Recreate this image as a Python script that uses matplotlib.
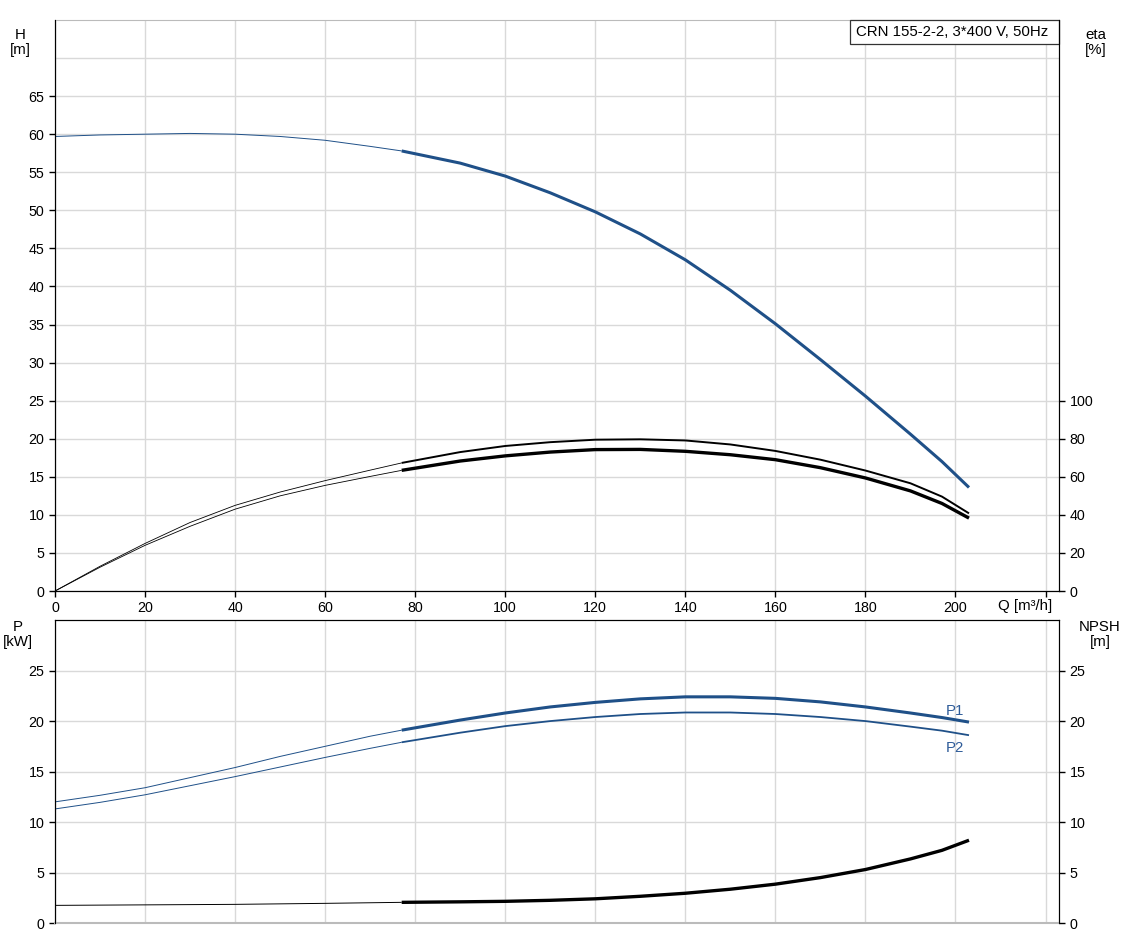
import matplotlib
matplotlib.use("Agg")
import matplotlib.pyplot as plt
from matplotlib.patches import Rectangle
import numpy as np

plt.rcParams['font.family'] = ['Liberation Sans', 'DejaVu Sans']
plt.rcParams['font.size'] = 10.3

# flow points (m3/h), duty range starts at 77
q = np.array([0, 10, 20, 30, 40, 50, 60, 70, 77, 90, 100, 110, 120, 130, 140, 150, 160, 170, 180, 190, 197, 203])
head = np.array([59.7, 59.9, 60.0, 60.1, 60.0, 59.7, 59.2, 58.4, 57.8, 56.2, 54.5, 52.3, 49.8, 46.9, 43.5, 39.5, 35.1, 30.4, 25.6, 20.6, 17.0, 13.6])
eta_pump = np.array([0, 13, 25, 36, 45, 52, 58, 63.5, 67.3, 73.0, 76.2, 78.2, 79.5, 79.7, 79.1, 77.0, 73.6, 69.0, 63.3, 56.6, 49.6, 40.8])
eta_total = np.array([0, 12.5, 24, 34, 43, 50, 55.5, 60.2, 63.4, 68.3, 71.0, 73.0, 74.3, 74.4, 73.4, 71.6, 69.0, 64.8, 59.4, 52.6, 46.0, 38.3])
p1 = np.array([12.0, 12.65, 13.4, 14.4, 15.4, 16.5, 17.5, 18.5, 19.1, 20.1, 20.8, 21.4, 21.85, 22.2, 22.4, 22.4, 22.25, 21.9, 21.4, 20.8, 20.35, 19.9])
p2 = np.array([11.3, 11.95, 12.7, 13.6, 14.5, 15.45, 16.4, 17.3, 17.9, 18.85, 19.5, 20.0, 20.4, 20.7, 20.85, 20.85, 20.7, 20.4, 20.0, 19.45, 19.05, 18.6])
q_npsh = np.array([0, 20, 40, 60, 77, 90, 100, 110, 120, 130, 140, 150, 160, 170, 180, 190, 197, 203])
npsh = np.array([1.75, 1.8, 1.85, 1.95, 2.05, 2.1, 2.15, 2.25, 2.4, 2.65, 2.95, 3.35, 3.85, 4.5, 5.3, 6.35, 7.2, 8.2])
q_duty = 77

blue = '#1f5088'
grid_c = '#d9d9d9'

fig = plt.figure(figsize=(11.27, 9.47), dpi=100)
ax = fig.add_axes([0.0488, 0.3759, 0.8909, 0.6030])
axb = fig.add_axes([0.0488, 0.0253, 0.8909, 0.3199])

def two_part(a, x, y, color, thin, thick):
    m1 = x <= q_duty
    m2 = x >= q_duty
    a.plot(x[m1], y[m1], color=color, lw=thin, solid_capstyle='butt', solid_joinstyle='round')
    a.plot(x[m2], y[m2], color=color, lw=thick, solid_capstyle='butt', solid_joinstyle='round')

# --- top: head and efficiency
ax.set_xlim(0, 223)
ax.set_ylim(0, 75)
ax.set_xticks(np.arange(0, 221, 20))
ax.set_xticklabels([str(v) for v in range(0, 201, 20)] + [''])
ax.set_yticks(np.arange(0, 66, 5))
ax.axhline(70, color=grid_c, lw=1, zorder=0)
ax.grid(True, color=grid_c, lw=1)
ax.set_axisbelow(True)
ax.tick_params(length=4, width=1)
ax.spines['top'].set_color('#bbbbbb')
two_part(ax, q, head, blue, 0.7, 2.2)

ax2 = ax.twinx()
ax2.set_ylim(0, 300)
ax2.set_yticks(np.arange(0, 101, 20))
ax2.tick_params(length=4, width=1)
ax2.spines['top'].set_visible(False)
two_part(ax2, q, eta_pump, 'black', 0.6, 1.4)
two_part(ax2, q, eta_total, 'black', 0.6, 2.4)

ax.add_patch(Rectangle((0.792, 0.958), 0.208, 0.042, transform=ax.transAxes,
                       fc='white', ec='#333333', lw=0.9, zorder=5, clip_on=False))
ax.text(0.798, 0.979, 'CRN 155-2-2, 3*400 V, 50Hz', transform=ax.transAxes,
        ha='left', va='center', fontsize=10.8, zorder=6)
fig.text(0.018, 0.955, 'H\n[m]', ha='center', va='center', fontsize=10.8, linespacing=1.1)
fig.text(0.972, 0.955, 'eta\n[%]', ha='center', va='center', fontsize=10.8, linespacing=1.1)
fig.text(0.91, 0.360, 'Q [m³/h]', ha='center', va='center', fontsize=10.8)

# --- bottom: power and NPSH
axb.set_xlim(0, 223)
axb.set_ylim(0, 30)
axb.set_xticks(np.arange(0, 221, 20))
axb.set_xticklabels([])
axb.tick_params(axis='x', length=0)
axb.set_yticks(np.arange(0, 26, 5))
axb.tick_params(axis='y', length=4, width=1)
axb.grid(True, color=grid_c, lw=1)
axb.set_axisbelow(True)
axb.spines['bottom'].set_color('#bbbbbb')
axb.spines['bottom'].set_linewidth(1.5)
two_part(axb, q, p1, blue, 0.7, 2.2)
two_part(axb, q, p2, blue, 0.7, 1.3)
axb.text(202, 20.3, 'P1', color='#2f5c99', ha='right', va='bottom', fontsize=10.8)
axb.text(202, 18.0, 'P2', color='#2f5c99', ha='right', va='top', fontsize=10.8)

axb2 = axb.twinx()
axb2.set_ylim(0, 30)
axb2.set_yticks(np.arange(0, 26, 5))
axb2.tick_params(length=4, width=1)
axb2.spines['bottom'].set_visible(False)
two_part(axb2, q_npsh, npsh, 'black', 0.7, 2.4)

fig.text(0.016, 0.330, 'P\n[kW]', ha='center', va='center', fontsize=10.8, linespacing=1.1)
fig.text(0.976, 0.330, 'NPSH\n[m]', ha='center', va='center', fontsize=10.8, linespacing=1.1)

fig.savefig('out.png', dpi=100)
